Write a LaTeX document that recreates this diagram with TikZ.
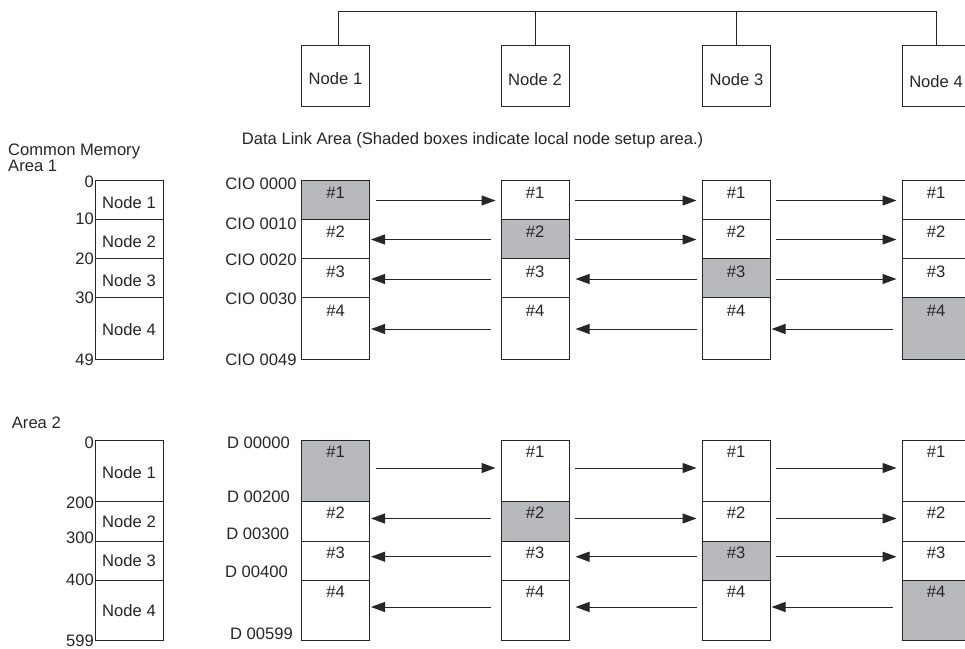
\documentclass[tikz,border=0pt]{standalone}
\usepackage{fontspec}
\setmainfont{Liberation Sans}
\usetikzlibrary{arrows.meta}
\definecolor{lc}{HTML}{262626}
\definecolor{shade}{HTML}{B8B9BD}
\begin{document}
\begin{tikzpicture}[x=1pt,y=-1pt,
  every node/.style={font=\fontsize{16.6}{19}\selectfont, inner sep=0pt, text=lc},
  box/.style={draw=lc, line width=1pt, minimum width=68pt, fill=white},
  shd/.style={box, fill=shade},
  arr/.style={draw=lc, line width=1pt, -{Triangle[length=14pt,width=10pt]}},
  wire/.style={draw=lc, line width=1pt}]
\useasboundingbox (0,0) rectangle (965,648);

% ---- network ----
\node[box, minimum height=61.7pt, text height=18pt] (n1) at (335.5,75.9) {Node 1};
\node[box, minimum height=61.7pt, text height=19.5pt] (n2) at (535,75.9) {Node 2};
\node[box, minimum height=61.7pt, text height=18.5pt] (n3) at (736.5,75.9) {Node 3};
\node[box, minimum height=61.7pt, text height=23pt] (n4) at (936,75.9) {Node 4};
\coordinate (bus) at (0,11.7);
\draw[wire] ([xshift=3pt]n1.north) |- (bus -| n4.north) -- (n4.north);
\draw[wire] (n2.north) -- (n2.north |- bus);
\draw[wire] (n3.north) -- (n3.north |- bus);

% ---- headings ----
\node[anchor=base west] (cm) at (8,155.8) {Common Memory};
\node[anchor=base west] (ar1) at (8,171) {Area 1};
\node[anchor=base west] (ar2) at (11.7,428.5) {Area 2};
\node[anchor=base west] (dla) at (241.7,144.1) {Data Link Area (Shaded boxes indicate local node setup area.)};

% ---- common memory area 1 ----
\node[box, minimum height=39pt, text height=18pt] (m1) at (129,199.5) {Node 1};
\node[box, minimum height=39.5pt, text height=18pt] (m2) at (129,238.75) {Node 2};
\node[box, minimum height=39pt, text height=18pt] (m3) at (129,278) {Node 3};
\node[box, minimum height=62pt, text height=15pt] (m4) at (129,328.5) {Node 4};
\node[anchor=base east] (l0) at (94,187.5) {0};
\node[anchor=base east] (l10) at (94,224.8) {10};
\node[anchor=base east] (l20) at (94,264.5) {20};
\node[anchor=base east] (l30) at (94,303.1) {30};
\node[anchor=base east] (l49) at (94,365.1) {49};

% ---- common memory area 2 ----
\node[box, minimum height=61pt, text height=15pt] (k1) at (129,471) {Node 1};
\node[box, minimum height=39.5pt] (k2) at (129,521.25) {Node 2};
\node[box, minimum height=39pt] (k3) at (129,560.5) {Node 3};
\node[box, minimum height=60.7pt] (k4) at (129,610.35) {Node 4};
\node[anchor=base east] (j0) at (94,448.8) {0};
\node[anchor=base east] (j200) at (94,508.8) {200};
\node[anchor=base east] (j300) at (94,543.8) {300};
\node[anchor=base east] (j400) at (94,585.8) {400};
\node[anchor=base east] (j599) at (94,646.3) {599};

% ---- CIO labels ----
\node[anchor=base east] (c0) at (296.7,189.1) {CIO 0000};
\node[anchor=base east] (c1) at (296.7,229.1) {CIO 0010};
\node[anchor=base east] (c2) at (296.7,265.8) {CIO 0020};
\node[anchor=base east] (c3) at (296.7,304.8) {CIO 0030};
\node[anchor=base east] (c4) at (296.7,365.1) {CIO 0049};

% ---- D labels ----
\node[anchor=base east] (d0) at (290,448.5) {D 00000};
\node[anchor=base east] (d1) at (290,502.5) {D 00200};
\node[anchor=base east] (d2) at (289.3,539.1) {D 00300};
\node[anchor=base east] (d3) at (288,577.5) {D 00400};
\node[anchor=base east] (d4) at (293,639.8) {D 00599};

% ---- data link area 1 ----
\foreach \c/\x in {1/335.5,2/535,3/736,4/936} {
  \foreach \r/\yc/\h in {1/199.5/39, 2/238.75/39.5, 3/278/39, 4/328.5/62} {
    \ifnum\c=\r \def\st{shd}\else\def\st{box}\fi
    \node[\st, minimum height=\h pt, label={[anchor=center,yshift=-13.5pt]north:\#\r}] (p\c\r) at (\x,\yc) {};
  }
}
% ---- data link area 2 ----
\foreach \c/\x in {1/335.5,2/535,3/736,4/936} {
  \foreach \r/\yc/\h in {1/471/61, 2/521.25/39.5, 3/560.5/39, 4/610.35/60.7} {
    \ifnum\c=\r \def\st{shd}\else\def\st{box}\fi
    \node[\st, minimum height=\h pt, label={[anchor=center,yshift=-12pt]north:\#\r}] (q\c\r) at (\x,\yc) {};
  }
}

% ---- arrows ----
\foreach \r/\ys/\zs in {1/-1/3, 2/-0.75/2.75, 3/-1/3.8, 4/-0.5/3.35} {
  \foreach \g/\tl/\tp in {1/10/1, 2/5/6, 3/9/1} {
    \pgfmathtruncatemacro\nx{\g+1}
    \ifnum\g<\r
      \draw[arr] ([xshift=-\tl pt,yshift=\ys pt]p\nx\r.west) -- ([xshift=\tp pt,yshift=\ys pt]p\g\r.east);
      \draw[arr] ([xshift=-\tl pt,yshift=\zs pt]q\nx\r.west) -- ([xshift=\tp pt,yshift=\zs pt]q\g\r.east);
    \else
      \draw[arr] ([xshift=5.5pt,yshift=\ys pt]p\g\r.east) -- ([xshift=-5pt,yshift=\ys pt]p\nx\r.west);
      \draw[arr] ([xshift=5.5pt,yshift=\zs pt]q\g\r.east) -- ([xshift=-5pt,yshift=\zs pt]q\nx\r.west);
    \fi
  }
}
\end{tikzpicture}
\end{document}
